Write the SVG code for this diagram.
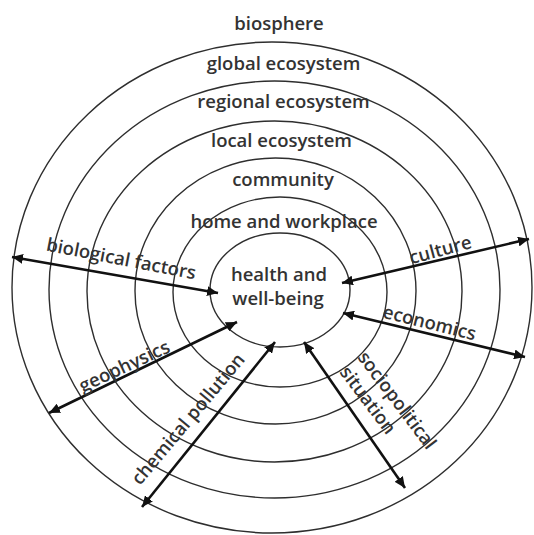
<svg xmlns="http://www.w3.org/2000/svg" width="534" height="535" viewBox="0 0 534 535">
  <style>
    .ring { fill: none; stroke: #2e2e2e; stroke-width: 1.4; }
    .conn { fill: none; stroke: #111; stroke-width: 2.6; marker-start: url(#head); marker-end: url(#head); }
    text { font-family: "Open Sans", "Liberation Sans", sans-serif; font-size: 18.5px; font-weight: 600; fill: #333; }
    .mid { text-anchor: middle; }
  </style>
  <defs>
    <marker id="head" markerUnits="userSpaceOnUse" markerWidth="12" markerHeight="10" refX="11" refY="5" orient="auto-start-reverse">
      <path d="M0,0 L11,5 L0,10 Z" fill="#111"/>
    </marker>
  </defs>
  <rect width="534" height="535" fill="#fff"/>

  <!-- nested spheres, outermost first -->
  <g id="biosphere">
    <ellipse class="ring" cx="272" cy="287.5" rx="260" ry="245.5"/>
    <text class="mid" x="279" y="30">biosphere</text>
  </g>
  <g id="global-ecosystem">
    <ellipse class="ring" cx="274.5" cy="289.5" rx="225.5" ry="208.5"/>
    <text class="mid" x="283.5" y="70">global ecosystem</text>
  </g>
  <g id="regional-ecosystem">
    <ellipse class="ring" cx="274.5" cy="291.5" rx="187.5" ry="170.5"/>
    <text class="mid" x="283.5" y="108">regional ecosystem</text>
  </g>
  <g id="local-ecosystem">
    <ellipse class="ring" cx="275.5" cy="291" rx="140.5" ry="133"/>
    <text class="mid" x="281.5" y="147">local ecosystem</text>
  </g>
  <g id="community">
    <ellipse class="ring" cx="280" cy="292" rx="107" ry="95"/>
    <text class="mid" x="283" y="186">community</text>
  </g>
  <g id="home-and-workplace">
    <ellipse class="ring" cx="280" cy="290" rx="70" ry="57"/>
    <text class="mid" x="284" y="228">home and workplace</text>
  </g>
  <g id="health-and-wellbeing">
    <text class="mid" x="279" y="281">health and</text>
    <text class="mid" x="278" y="305">well-being</text>
  </g>

  <!-- influences acting on the centre -->
  <g id="connectors">
    <line class="conn" x1="12" y1="257" x2="218" y2="293"/>
    <line class="conn" x1="529" y1="239" x2="342" y2="283"/>
    <line class="conn" x1="525" y1="357" x2="343" y2="313"/>
    <line class="conn" x1="49" y1="413" x2="237" y2="322"/>
    <line class="conn" x1="142" y1="507" x2="275" y2="342"/>
    <line class="conn" x1="405" y1="488" x2="304" y2="342"/>
  </g>

  <g id="connector-labels">
    <text class="mid" transform="translate(120 265) rotate(11)">biological factors</text>
    <text class="mid" transform="translate(442 256) rotate(-15)">culture</text>
    <text class="mid" transform="translate(428 329) rotate(14)">economics</text>
    <text class="mid" transform="translate(127 372) rotate(-25)">geophysics</text>
    <text class="mid" transform="translate(193 423) rotate(-50)">chemical pollution</text>
    <text class="mid" transform="translate(392 404) rotate(53)">sociopolitical</text>
    <text class="mid" transform="translate(363 404) rotate(53)">situation</text>
  </g>
</svg>
